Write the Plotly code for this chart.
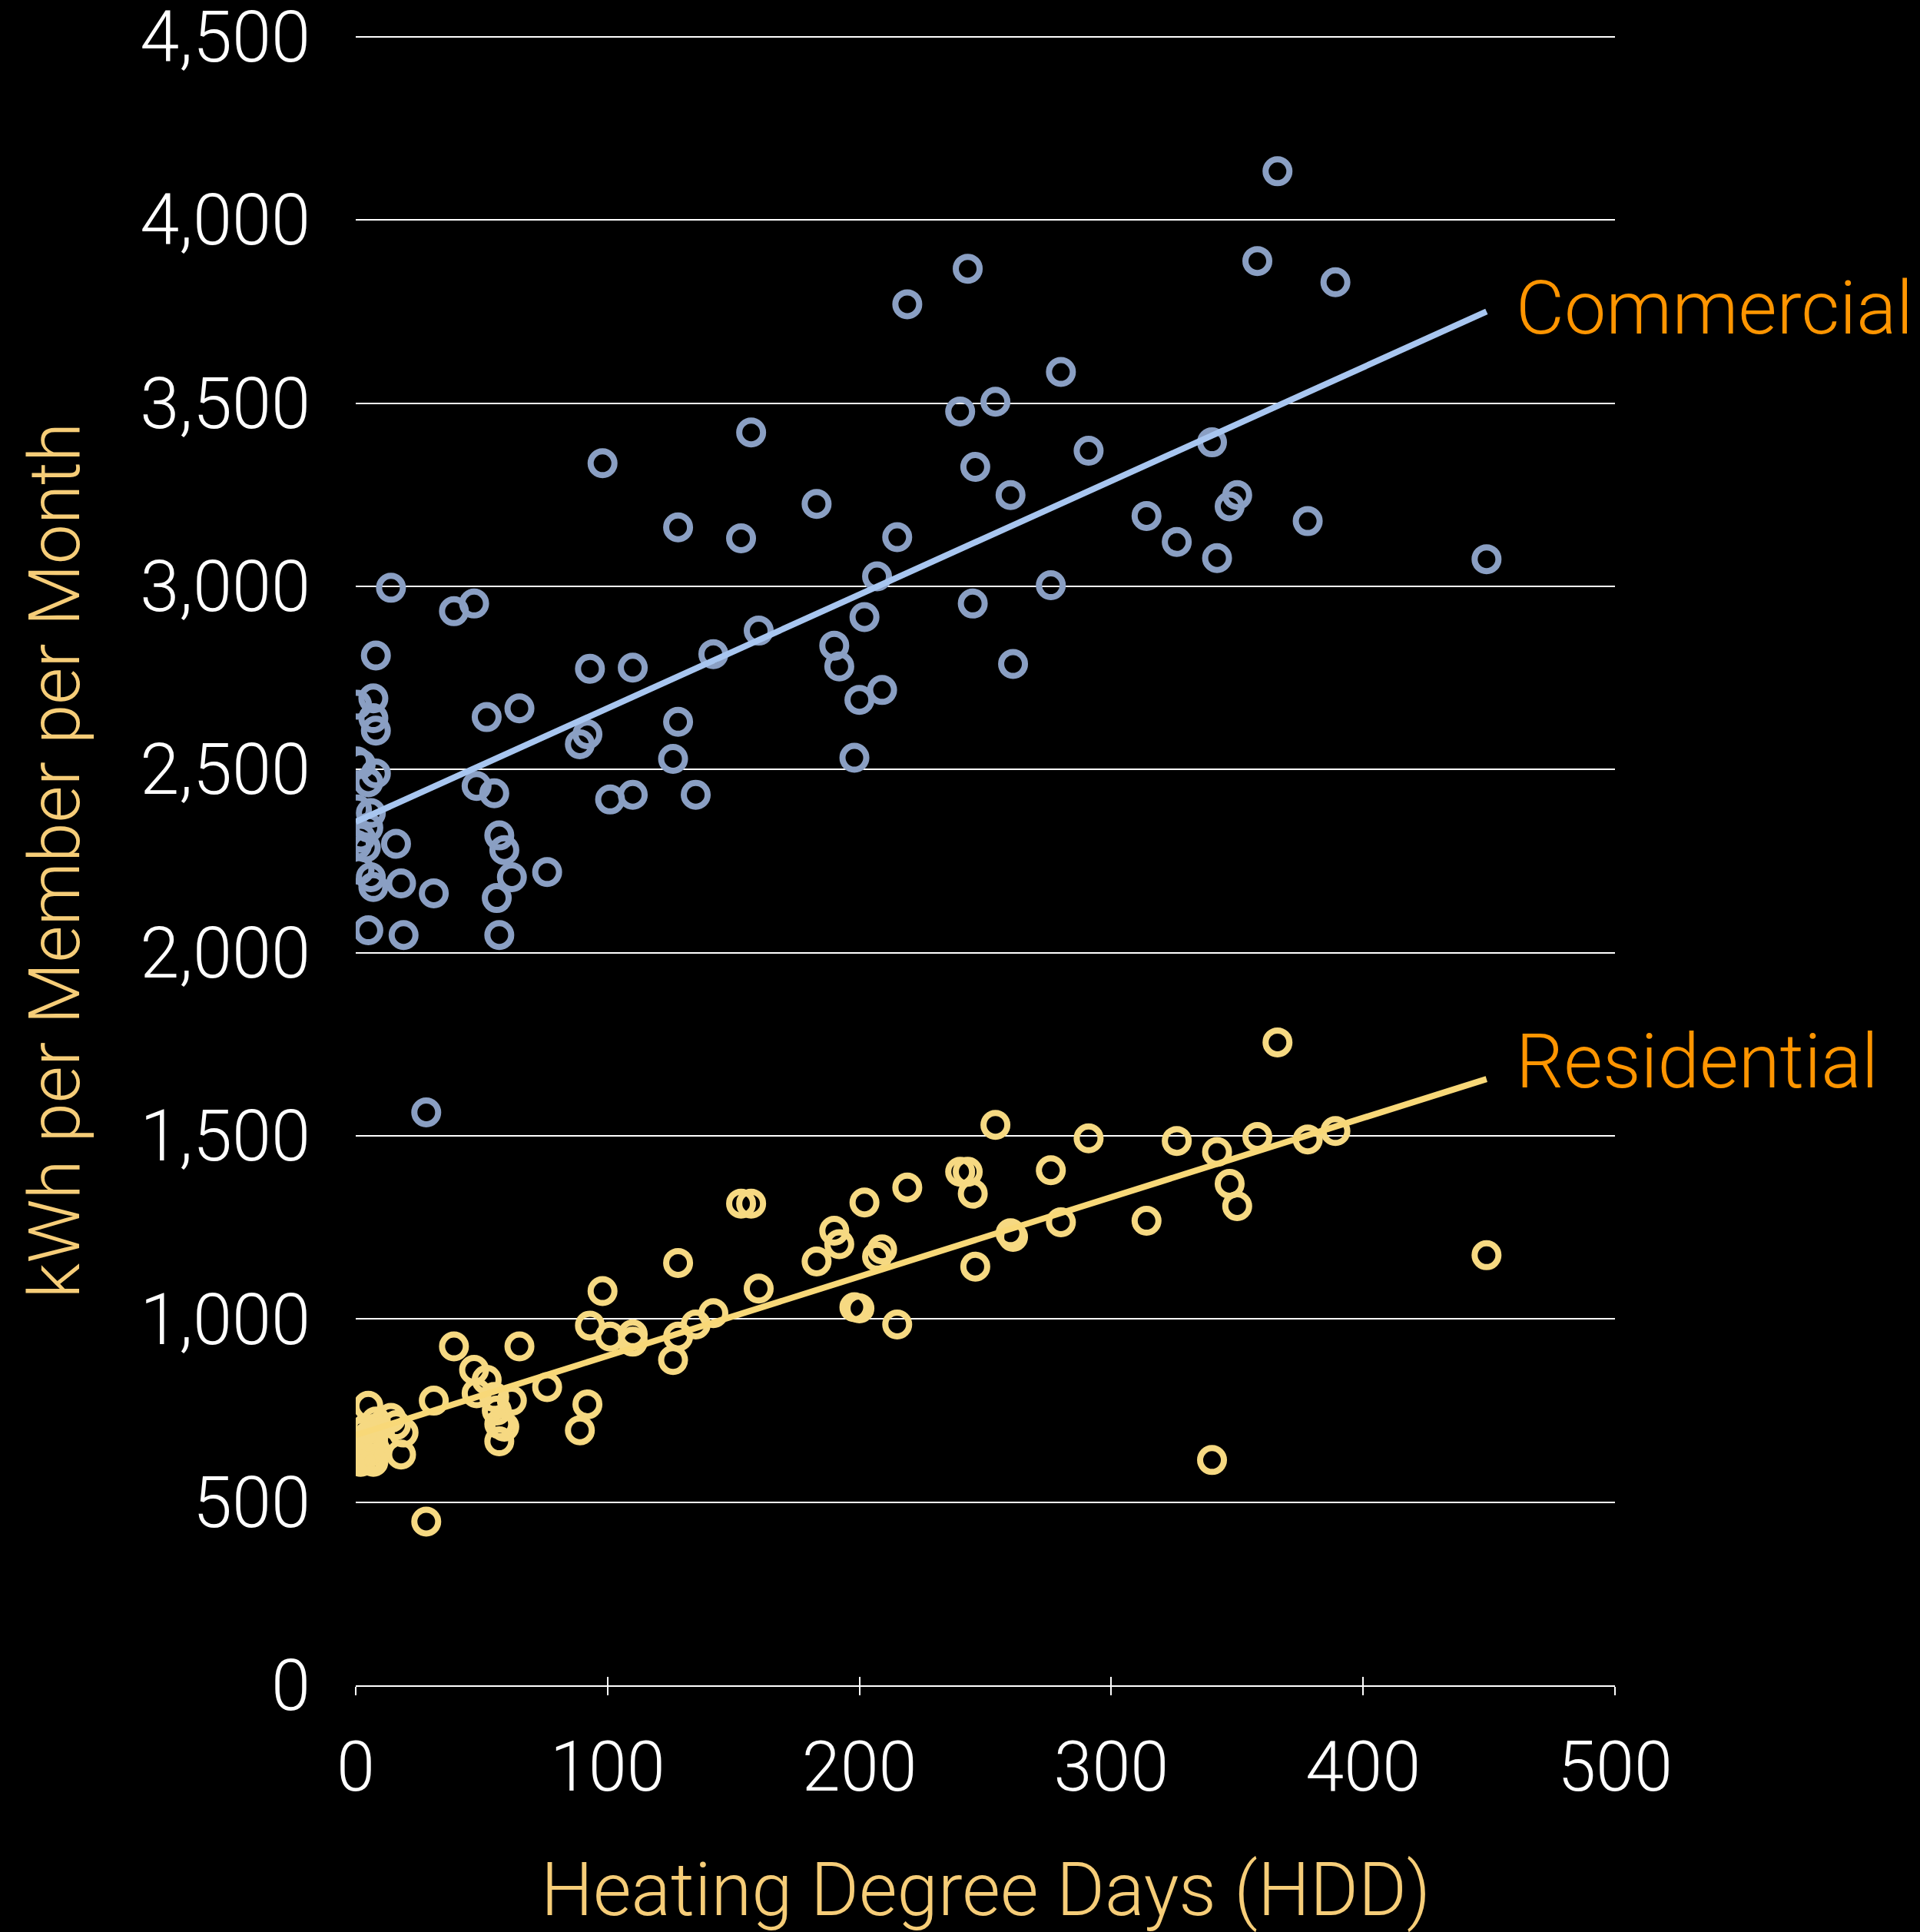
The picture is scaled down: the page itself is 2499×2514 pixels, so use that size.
import plotly.graph_objects as go

# Monthly heating degree days with average usage per member (kWh)
hdd = [
    449, 389, 378, 366, 358, 350, 347, 342, 340, 326,
    314, 291, 280, 276, 261, 260, 254, 246, 245, 243,
    240, 219, 215, 209, 207, 202, 200, 198, 192, 190,
    183, 160, 157, 153, 142, 135, 128, 128, 126, 110,
    110, 101, 98, 93, 92, 89, 76, 65, 62, 59,
    57, 57, 56, 55, 52, 48, 47, 39, 31, 28,
    19, 18, 16, 14, 8, 7, 7, 8, 0.5, 0.5,
    2, 8, 5, 0.5, 6, 5, 2, 0.5, 4, 1.5,
    6, 7, 5,
]
commercial_kwh = [
    3074, 3830, 3178, 4133, 3888, 3249, 3218, 3077, 3393, 3121,
    3192, 3370, 3585, 3003, 2788, 3249, 3504, 3326, 2953, 3867,
    3477, 3770, 3134, 2717, 3027, 2916, 2690, 2532, 2781, 2838,
    3225, 2879, 3420, 3131, 2815, 2431, 3161, 2630, 2529, 2778,
    2431, 2418, 3336, 2775, 2596, 2569, 2220, 2667, 2206, 2280,
    2320, 2048, 2149, 2435, 2643, 2455, 2953, 2932, 2162, 1564,
    2048, 2189, 2297, 2996, 2811, 2694, 2640, 2606, 2677, 2522,
    2515, 2489, 2465, 2391, 2381, 2341, 2314, 2294, 2287, 2226,
    2206, 2179, 2061,
]
residential_kwh = [
    1174, 1513, 1490, 1755, 1497, 1308, 1369, 1456, 615, 1486,
    1268, 1493, 1264, 1406, 1224, 1234, 1530, 1143, 1342, 1402,
    1402, 1359, 985, 1190, 1170, 1318, 1029, 1032, 1204, 1241,
    1157, 1083, 1315, 1315, 1016, 985, 1153, 952, 888, 958,
    938, 952, 1076, 982, 767, 696, 814, 925, 777, 706,
    713, 666, 750, 787, 834, 797, 861, 925, 777, 447,
    690, 630, 710, 730, 700, 680, 660, 640, 650, 630,
    690, 720, 763, 620, 670, 640, 610, 660, 700, 640,
    620, 610, 680,
]

# Linear trend endpoints for each sector
trend_hdd = [0, 449]
commercial_trend = [2357, 3750]
residential_trend = [683, 1655]

x_ticks = [0, 100, 200, 300, 400, 500]
y_ticks = [0, 500, 1000, 1500, 2000, 2500, 3000, 3500, 4000, 4500]

FONT = "Roboto"
COMMERCIAL_DOT = "#8A9FC3"
COMMERCIAL_LINE = "#A8C6F0"
RESIDENTIAL_DOT = "#F6D982"
RESIDENTIAL_LINE = "#F8D878"
TITLE_GOLD = "#F6CD78"
LABEL_ORANGE = "#FF9500"

fig = go.Figure()

fig.add_trace(go.Scatter(
    x=hdd, y=commercial_kwh, mode="markers", name="Commercial",
    marker=dict(symbol="circle-open", size=31, color=COMMERCIAL_DOT,
                line=dict(width=8, color=COMMERCIAL_DOT)),
    showlegend=False,
))
fig.add_trace(go.Scatter(
    x=hdd, y=residential_kwh, mode="markers", name="Residential",
    marker=dict(symbol="circle-open", size=31, color=RESIDENTIAL_DOT,
                line=dict(width=8, color=RESIDENTIAL_DOT)),
    showlegend=False,
))
fig.add_trace(go.Scatter(
    x=trend_hdd, y=commercial_trend, mode="lines",
    line=dict(color=COMMERCIAL_LINE, width=8), showlegend=False,
))
fig.add_trace(go.Scatter(
    x=trend_hdd, y=residential_trend, mode="lines",
    line=dict(color=RESIDENTIAL_LINE, width=8), showlegend=False,
))
# invisible trace so the overlay axis (inner tick halves) is drawn
fig.add_trace(go.Scatter(
    x=[0], y=[0], xaxis="x2", mode="markers",
    marker=dict(opacity=0), showlegend=False, hoverinfo="skip",
))

fig.update_layout(
    width=2499, height=2514,
    margin=dict(l=463, r=397, t=46, b=321),
    paper_bgcolor="black", plot_bgcolor="black",
    font=dict(family=FONT, color="white", weight=300),
    xaxis=dict(
        range=[0, 500], tickvals=x_ticks, showgrid=False, zeroline=False,
        showline=True, linecolor="white", linewidth=2, automargin=False,
        ticks="outside", ticklen=11, tickwidth=2, tickcolor="white",
        tickfont=dict(size=90, color="white", family=FONT, weight=300),
        ticklabelstandoff=16,
    ),
    xaxis2=dict(
        range=[0, 500], tickvals=x_ticks, overlaying="x", anchor="y",
        side="bottom", showgrid=False, zeroline=False, showline=False,
        ticks="inside", ticklen=11, tickwidth=2, tickcolor="white",
        showticklabels=False, automargin=False,
    ),
    yaxis=dict(
        range=[0, 4504], tickvals=y_ticks, tickformat=",",
        showgrid=True, gridcolor="white", gridwidth=2,
        zeroline=False, showline=False, ticks="", automargin=False,
        tickfont=dict(size=92, color="white", family=FONT, weight=300),
        ticklabelstandoff=58, ticklabeloverflow="allow",
    ),
    annotations=[
        dict(text="Heating Degree Days (HDD)", xref="paper", yref="paper",
             x=0.5, y=-0.124, xanchor="center", yanchor="middle",
             showarrow=False,
             font=dict(size=96, color=TITLE_GOLD, family=FONT, weight=300)),
        dict(text="kWh per Member per Month", xref="paper", yref="paper",
             x=-0.2386, y=0.5, xanchor="center", yanchor="middle",
             textangle=-90, showarrow=False,
             font=dict(size=93, color=TITLE_GOLD, family=FONT, weight=300)),
        dict(text="Commercial", xref="x", yref="y", x=460, y=3760,
             xanchor="left", yanchor="middle", showarrow=False,
             font=dict(size=97, color=LABEL_ORANGE, family=FONT, weight=300)),
        dict(text="Residential", xref="x", yref="y", x=460, y=1702,
             xanchor="left", yanchor="middle", showarrow=False,
             font=dict(size=98, color=LABEL_ORANGE, family=FONT, weight=300)),
    ],
)

fig.write_html("out.html")
